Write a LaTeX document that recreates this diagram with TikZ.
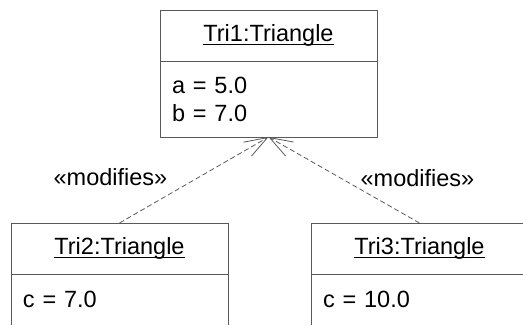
\documentclass[tikz,border=0pt]{standalone}
\usepackage{fontspec}
\setmainfont{Liberation Sans}
\usepackage{tikz}
\usetikzlibrary{arrows.meta,positioning}
\definecolor{linegray}{gray}{0.35}
\newcommand*\objname[1]{\setbox0=\hbox{#1}\rlap{\rule[-3.6pt]{\wd0}{1.1pt}}\box0}

\begin{document}
\begin{tikzpicture}[x=1pt,y=-1pt,font=\fontsize{23.5}{28}\selectfont,
    objtitle/.style={shape=rectangle,draw=linegray,line width=0.9pt,outer sep=0pt,
                     minimum width=217pt,minimum height=51pt},
    objattr/.style={shape=rectangle,draw=linegray,line width=0.9pt,outer sep=0pt,
                    text width=193pt,inner xsep=12pt,align=left,minimum height=51pt},
    dep/.style={draw=linegray,line width=0.8pt,dash pattern=on 5pt off 3pt,
                -{Straight Barb[length=23pt,width=16pt]}},
    stereo/.style={anchor=base,inner sep=0pt}]
	\useasboundingbox (0,0) rectangle (523,326);
	\clip (0,0) rectangle (523,324.5);

	\node (tri1) [objtitle] at (268.5,35.5) {\objname{Tri1:Triangle}};
	\node (tri1attr) [objattr,minimum height=76pt] [below=0pt of tri1] {
		a = 5.0\\
		b = 7.0
	};

	\node (tri2) [objtitle] at (119.5,248.5) {\objname{Tri2:Triangle}};
	\node (tri2attr) [objattr] [below=0pt of tri2] {c = 7.0};

	\node (tri3) [objtitle] at (419.5,248.5) {\objname{Tri3:Triangle}};
	\node (tri3attr) [objattr] [below=0pt of tri3] {c = 10.0};

	\node (mod2) [stereo] at (110.5,186) {«modifies»};
	\node (mod3) [stereo] at (417.5,187) {«modifies»};

	\path (tri2.north) edge[dep] (tri1attr.south);
	\path (tri3.north) edge[dep] (tri1attr.south);
\end{tikzpicture}
\end{document}
